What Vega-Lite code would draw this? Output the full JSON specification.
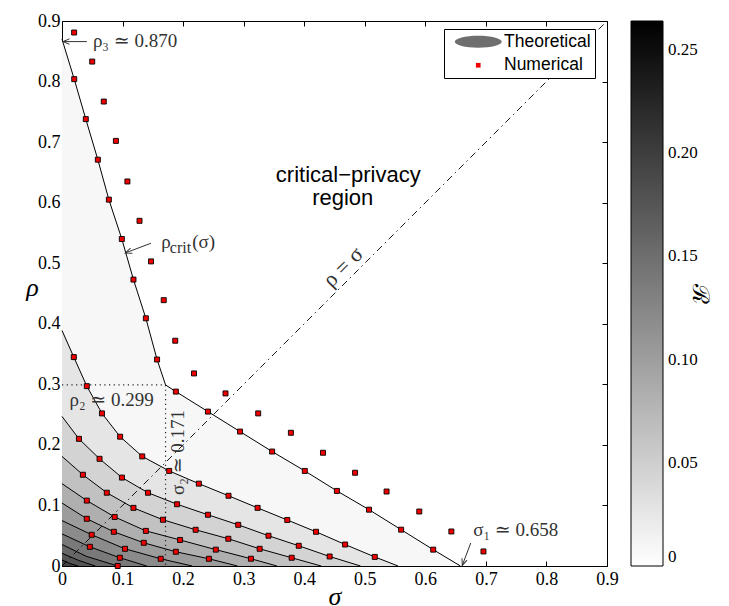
{
  "$schema": "https://vega.github.io/schema/vega-lite/v6.json",
  "width": 545,
  "height": 545,
  "autosize": {"type": "none"},
  "padding": {"left": 62, "top": 21, "right": 122, "bottom": 40},
  "background": "white",
  "config": {
    "view": {"stroke": null},
    "axis": {
      "domainColor": "black", "domainWidth": 1, "tickColor": "black", "tickWidth": 1, "tickSize": -5,
      "labelFont": "Liberation Serif", "labelFontSize": 18, "labelColor": "black",
      "grid": false, "zindex": 1, "labelFlush": false, "labelOverlap": false,
      "titleFont": "Liberation Serif", "titleFontStyle": "italic", "titleFontWeight": "normal",
      "titleFontSize": 26, "titleColor": "black"
    }
  },
  "datasets": {
    "contours": [
      {"c": 1, "R": 0.008, "sigma": 0, "rho": 0.870}, {"c": 1, "R": 0.008, "sigma": 0.0202, "rho": 0.804}, {"c": 1, "R": 0.008, "sigma": 0.0393, "rho": 0.738}, {"c": 1, "R": 0.008, "sigma": 0.0592, "rho": 0.671}, {"c": 1, "R": 0.008, "sigma": 0.0774, "rho": 0.605}, {"c": 1, "R": 0.008, "sigma": 0.0988, "rho": 0.540}, {"c": 1, "R": 0.008, "sigma": 0.118, "rho": 0.473}, {"c": 1, "R": 0.008, "sigma": 0.1385, "rho": 0.409}, {"c": 1, "R": 0.008, "sigma": 0.157, "rho": 0.341}, {"c": 1, "R": 0.008, "sigma": 0.171, "rho": 0.299}, {"c": 1, "R": 0.008, "sigma": 0.188, "rho": 0.288}, {"c": 1, "R": 0.008, "sigma": 0.241, "rho": 0.255}, {"c": 1, "R": 0.008, "sigma": 0.294, "rho": 0.222}, {"c": 1, "R": 0.008, "sigma": 0.347, "rho": 0.189}, {"c": 1, "R": 0.008, "sigma": 0.401, "rho": 0.157}, {"c": 1, "R": 0.008, "sigma": 0.454, "rho": 0.124}, {"c": 1, "R": 0.008, "sigma": 0.507, "rho": 0.093}, {"c": 1, "R": 0.008, "sigma": 0.560, "rho": 0.060}, {"c": 1, "R": 0.008, "sigma": 0.613, "rho": 0.027}, {"c": 1, "R": 0.008, "sigma": 0.658, "rho": 0},
      {"c": 2, "R": 0.027, "sigma": 0, "rho": 0.389}, {"c": 2, "R": 0.027, "sigma": 0.0195, "rho": 0.345}, {"c": 2, "R": 0.027, "sigma": 0.041, "rho": 0.297}, {"c": 2, "R": 0.027, "sigma": 0.066, "rho": 0.252}, {"c": 2, "R": 0.027, "sigma": 0.096, "rho": 0.2135}, {"c": 2, "R": 0.027, "sigma": 0.1325, "rho": 0.181}, {"c": 2, "R": 0.027, "sigma": 0.177, "rho": 0.157}, {"c": 2, "R": 0.027, "sigma": 0.226, "rho": 0.136}, {"c": 2, "R": 0.027, "sigma": 0.275, "rho": 0.116}, {"c": 2, "R": 0.027, "sigma": 0.323, "rho": 0.096}, {"c": 2, "R": 0.027, "sigma": 0.372, "rho": 0.076}, {"c": 2, "R": 0.027, "sigma": 0.4195, "rho": 0.0565}, {"c": 2, "R": 0.027, "sigma": 0.4675, "rho": 0.0355}, {"c": 2, "R": 0.027, "sigma": 0.5165, "rho": 0.015}, {"c": 2, "R": 0.027, "sigma": 0.555, "rho": 0},
      {"c": 3, "R": 0.046, "sigma": 0, "rho": 0.247}, {"c": 3, "R": 0.046, "sigma": 0.028, "rho": 0.210}, {"c": 3, "R": 0.046, "sigma": 0.062, "rho": 0.177}, {"c": 3, "R": 0.046, "sigma": 0.099, "rho": 0.146}, {"c": 3, "R": 0.046, "sigma": 0.142, "rho": 0.121}, {"c": 3, "R": 0.046, "sigma": 0.190, "rho": 0.102}, {"c": 3, "R": 0.046, "sigma": 0.241, "rho": 0.0846}, {"c": 3, "R": 0.046, "sigma": 0.291, "rho": 0.068}, {"c": 3, "R": 0.046, "sigma": 0.341, "rho": 0.050}, {"c": 3, "R": 0.046, "sigma": 0.391, "rho": 0.0334}, {"c": 3, "R": 0.046, "sigma": 0.442, "rho": 0.0157}, {"c": 3, "R": 0.046, "sigma": 0.493, "rho": 0},
      {"c": 4, "R": 0.064, "sigma": 0, "rho": 0.181}, {"c": 4, "R": 0.064, "sigma": 0.0345, "rho": 0.1507}, {"c": 4, "R": 0.064, "sigma": 0.074, "rho": 0.121}, {"c": 4, "R": 0.064, "sigma": 0.118, "rho": 0.096}, {"c": 4, "R": 0.064, "sigma": 0.1667, "rho": 0.0764}, {"c": 4, "R": 0.064, "sigma": 0.2207, "rho": 0.0598}, {"c": 4, "R": 0.064, "sigma": 0.2747, "rho": 0.045}, {"c": 4, "R": 0.064, "sigma": 0.3264, "rho": 0.0284}, {"c": 4, "R": 0.064, "sigma": 0.3793, "rho": 0.0136}, {"c": 4, "R": 0.064, "sigma": 0.428, "rho": 0},
      {"c": 5, "R": 0.083, "sigma": 0, "rho": 0.136}, {"c": 5, "R": 0.083, "sigma": 0.041, "rho": 0.108}, {"c": 5, "R": 0.083, "sigma": 0.087, "rho": 0.081}, {"c": 5, "R": 0.083, "sigma": 0.1385, "rho": 0.058}, {"c": 5, "R": 0.083, "sigma": 0.195, "rho": 0.043}, {"c": 5, "R": 0.083, "sigma": 0.254, "rho": 0.027}, {"c": 5, "R": 0.083, "sigma": 0.312, "rho": 0.012}, {"c": 5, "R": 0.083, "sigma": 0.355, "rho": 0},
      {"c": 6, "R": 0.102, "sigma": 0, "rho": 0.104}, {"c": 6, "R": 0.102, "sigma": 0.041, "rho": 0.078}, {"c": 6, "R": 0.102, "sigma": 0.0856, "rho": 0.0565}, {"c": 6, "R": 0.102, "sigma": 0.135, "rho": 0.0383}, {"c": 6, "R": 0.102, "sigma": 0.188, "rho": 0.0235}, {"c": 6, "R": 0.102, "sigma": 0.2426, "rho": 0.0119}, {"c": 6, "R": 0.102, "sigma": 0.29, "rho": 0},
      {"c": 7, "R": 0.120, "sigma": 0, "rho": 0.075}, {"c": 7, "R": 0.120, "sigma": 0.049, "rho": 0.0516}, {"c": 7, "R": 0.120, "sigma": 0.104, "rho": 0.0284}, {"c": 7, "R": 0.120, "sigma": 0.163, "rho": 0.0119}, {"c": 7, "R": 0.120, "sigma": 0.215, "rho": 0},
      {"c": 8, "R": 0.139, "sigma": 0, "rho": 0.053}, {"c": 8, "R": 0.139, "sigma": 0.046, "rho": 0.0317}, {"c": 8, "R": 0.139, "sigma": 0.0955, "rho": 0.0136}, {"c": 8, "R": 0.139, "sigma": 0.14, "rho": 0},
      {"c": 9, "R": 0.157, "sigma": 0, "rho": 0.0355}, {"c": 9, "R": 0.157, "sigma": 0.04, "rho": 0.016}, {"c": 9, "R": 0.157, "sigma": 0.092, "rho": 0},
      {"c": 10, "R": 0.176, "sigma": 0, "rho": 0.021}, {"c": 10, "R": 0.176, "sigma": 0.028, "rho": 0.009}, {"c": 10, "R": 0.176, "sigma": 0.055, "rho": 0},
      {"c": 11, "R": 0.195, "sigma": 0, "rho": 0.010}, {"c": 11, "R": 0.195, "sigma": 0.013, "rho": 0.004}, {"c": 11, "R": 0.195, "sigma": 0.027, "rho": 0}
    ],
    "points": [
      {"series": "Numerical", "sigma": 0.020, "rho": 0.881}, {"series": "Numerical", "sigma": 0.0499, "rho": 0.833}, {"series": "Numerical", "sigma": 0.069, "rho": 0.767}, {"series": "Numerical", "sigma": 0.089, "rho": 0.702}, {"series": "Numerical", "sigma": 0.108, "rho": 0.635}, {"series": "Numerical", "sigma": 0.128, "rho": 0.570}, {"series": "Numerical", "sigma": 0.147, "rho": 0.503}, {"series": "Numerical", "sigma": 0.168, "rho": 0.439}, {"series": "Numerical", "sigma": 0.187, "rho": 0.372}, {"series": "Numerical", "sigma": 0.218, "rho": 0.318}, {"series": "Numerical", "sigma": 0.270, "rho": 0.285}, {"series": "Numerical", "sigma": 0.324, "rho": 0.252}, {"series": "Numerical", "sigma": 0.378, "rho": 0.220}, {"series": "Numerical", "sigma": 0.431, "rho": 0.187}, {"series": "Numerical", "sigma": 0.484, "rho": 0.154}, {"series": "Numerical", "sigma": 0.536, "rho": 0.123}, {"series": "Numerical", "sigma": 0.590, "rho": 0.090}, {"series": "Numerical", "sigma": 0.643, "rho": 0.057}, {"series": "Numerical", "sigma": 0.696, "rho": 0.024},
      {"series": "Numerical", "sigma": 0.0202, "rho": 0.804}, {"series": "Numerical", "sigma": 0.0393, "rho": 0.738}, {"series": "Numerical", "sigma": 0.0592, "rho": 0.671}, {"series": "Numerical", "sigma": 0.0774, "rho": 0.605}, {"series": "Numerical", "sigma": 0.0988, "rho": 0.540}, {"series": "Numerical", "sigma": 0.118, "rho": 0.473}, {"series": "Numerical", "sigma": 0.1385, "rho": 0.409}, {"series": "Numerical", "sigma": 0.157, "rho": 0.341}, {"series": "Numerical", "sigma": 0.188, "rho": 0.288}, {"series": "Numerical", "sigma": 0.241, "rho": 0.255}, {"series": "Numerical", "sigma": 0.294, "rho": 0.222}, {"series": "Numerical", "sigma": 0.347, "rho": 0.189}, {"series": "Numerical", "sigma": 0.401, "rho": 0.157}, {"series": "Numerical", "sigma": 0.454, "rho": 0.124}, {"series": "Numerical", "sigma": 0.507, "rho": 0.093}, {"series": "Numerical", "sigma": 0.560, "rho": 0.060}, {"series": "Numerical", "sigma": 0.613, "rho": 0.027},
      {"series": "Numerical", "sigma": 0.0195, "rho": 0.345}, {"series": "Numerical", "sigma": 0.041, "rho": 0.297}, {"series": "Numerical", "sigma": 0.066, "rho": 0.252}, {"series": "Numerical", "sigma": 0.096, "rho": 0.2135}, {"series": "Numerical", "sigma": 0.1325, "rho": 0.181}, {"series": "Numerical", "sigma": 0.177, "rho": 0.157}, {"series": "Numerical", "sigma": 0.226, "rho": 0.136}, {"series": "Numerical", "sigma": 0.275, "rho": 0.116}, {"series": "Numerical", "sigma": 0.323, "rho": 0.096}, {"series": "Numerical", "sigma": 0.372, "rho": 0.076}, {"series": "Numerical", "sigma": 0.4195, "rho": 0.0565}, {"series": "Numerical", "sigma": 0.4675, "rho": 0.0355}, {"series": "Numerical", "sigma": 0.5165, "rho": 0.015},
      {"series": "Numerical", "sigma": 0.028, "rho": 0.210}, {"series": "Numerical", "sigma": 0.062, "rho": 0.177}, {"series": "Numerical", "sigma": 0.099, "rho": 0.146}, {"series": "Numerical", "sigma": 0.142, "rho": 0.121}, {"series": "Numerical", "sigma": 0.190, "rho": 0.102}, {"series": "Numerical", "sigma": 0.241, "rho": 0.0846}, {"series": "Numerical", "sigma": 0.291, "rho": 0.068}, {"series": "Numerical", "sigma": 0.341, "rho": 0.050}, {"series": "Numerical", "sigma": 0.391, "rho": 0.0334}, {"series": "Numerical", "sigma": 0.442, "rho": 0.0157},
      {"series": "Numerical", "sigma": 0.0345, "rho": 0.1507}, {"series": "Numerical", "sigma": 0.074, "rho": 0.121}, {"series": "Numerical", "sigma": 0.118, "rho": 0.096}, {"series": "Numerical", "sigma": 0.1667, "rho": 0.0764}, {"series": "Numerical", "sigma": 0.2207, "rho": 0.0598}, {"series": "Numerical", "sigma": 0.2747, "rho": 0.045}, {"series": "Numerical", "sigma": 0.3264, "rho": 0.0284}, {"series": "Numerical", "sigma": 0.3793, "rho": 0.0136},
      {"series": "Numerical", "sigma": 0.041, "rho": 0.108}, {"series": "Numerical", "sigma": 0.087, "rho": 0.081}, {"series": "Numerical", "sigma": 0.1385, "rho": 0.058}, {"series": "Numerical", "sigma": 0.195, "rho": 0.043}, {"series": "Numerical", "sigma": 0.254, "rho": 0.027}, {"series": "Numerical", "sigma": 0.312, "rho": 0.012},
      {"series": "Numerical", "sigma": 0.041, "rho": 0.078}, {"series": "Numerical", "sigma": 0.0856, "rho": 0.0565}, {"series": "Numerical", "sigma": 0.135, "rho": 0.0383}, {"series": "Numerical", "sigma": 0.188, "rho": 0.0235}, {"series": "Numerical", "sigma": 0.2426, "rho": 0.0119},
      {"series": "Numerical", "sigma": 0.049, "rho": 0.0516}, {"series": "Numerical", "sigma": 0.104, "rho": 0.0284}, {"series": "Numerical", "sigma": 0.163, "rho": 0.0119},
      {"series": "Numerical", "sigma": 0.046, "rho": 0.0317}, {"series": "Numerical", "sigma": 0.0955, "rho": 0.0136},
      {"series": "Numerical", "sigma": 0.092, "rho": 0.0}
    ],
    "guides": [
      {"sigma": 0, "rho": 0.299, "sigma2": 0.171, "rho2": 0.299},
      {"sigma": 0.171, "rho": 0.299, "sigma2": 0.171, "rho2": 0}
    ],
    "arrows": [
      {"name": "rho3", "sigma": 0.041, "rho": 0.866, "sigma2": 0.0015, "rho2": 0.866},
      {"name": "crit", "sigma": 0.147, "rho": 0.533, "sigma2": 0.1045, "rho2": 0.517},
      {"name": "sigma1", "sigma": 0.675, "rho": 0.038, "sigma2": 0.661, "rho2": 0.001}
    ],
    "labels": [
      {"kind": "main", "label": "ρ₃ ≃ 0.870", "sigma": 0.051, "rho": 0.8675},
      {"kind": "main", "label": "ρ₂ ≃ 0.299", "sigma": 0.0124, "rho": 0.2747},
      {"kind": "main", "label": "σ₁ ≃ 0.658", "sigma": 0.679, "rho": 0.0587},
      {"kind": "main", "label": "ρ", "sigma": 0.164, "rho": 0.5347},
      {"kind": "main", "label": "(σ)", "sigma": 0.215, "rho": 0.5347},
      {"kind": "sub", "label": "crit", "sigma": 0.178, "rho": 0.525},
      {"kind": "vert", "label": "σ₂ ≃ 0.171", "sigma": 0.1914, "rho": 0.1876},
      {"kind": "diag", "label": "ρ = σ", "sigma": 0.464, "rho": 0.494},
      {"kind": "sans", "label": "critical−privacy", "sigma": 0.4727, "rho": 0.6455},
      {"kind": "sans", "label": "region", "sigma": 0.4636, "rho": 0.607}
    ]
  },
  "layer": [
    {
      "layer": [
        {
          "data": {"name": "contours"},
          "mark": {"type": "area", "interpolate": "linear"},
          "encoding": {
            "x": {"field": "sigma", "type": "quantitative", "scale": {"domain": [0, 0.9], "nice": false},
              "axis": {"orient": "bottom", "values": [0, 0.1, 0.2, 0.3, 0.4, 0.5, 0.6, 0.7, 0.8, 0.9], "format": ".1~f", "labelPadding": 9, "title": "σ", "titleY": 38, "titleBaseline": "alphabetic"}},
            "y": {"field": "rho", "type": "quantitative", "stack": null, "scale": {"domain": [0, 0.9], "nice": false},
              "axis": {"orient": "left", "values": [0, 0.1, 0.2, 0.3, 0.4, 0.5, 0.6, 0.7, 0.8, 0.9], "format": ".1~f", "labelPadding": 7, "title": "ρ", "titleAngle": 0, "titleX": -30, "titleY": 266, "titleAlign": "center", "titleBaseline": "middle"}},
            "color": {"field": "R", "type": "quantitative",
              "scale": {"domain": [0, 0.264], "range": ["#ffffff", "#000000"], "interpolate": "rgb"},
              "legend": {"orient": "none", "legendX": 569, "legendY": 0, "direction": "vertical", "gradientLength": 545, "gradientThickness": 32, "gradientStrokeColor": "black", "gradientStrokeWidth": 1, "values": [0, 0.05, 0.1, 0.15, 0.2, 0.25], "labelExpr": "datum.value == 0 ? '0' : format(datum.value, '.2f')", "labelFont": "Liberation Serif", "labelFontSize": 17, "labelColor": "black", "labelOffset": 5, "labelOverlap": false, "title": "ℛ", "titleOrient": "right", "titleAngle": 270, "titleFont": "DejaVu Serif", "titleFontSize": 23, "titleFontWeight": "normal", "titleColor": "black", "titleAnchor": "middle", "titleBaseline": "middle", "titlePadding": 2, "padding": 0}}
          }
        },
        {
          "data": {"name": "contours"},
          "mark": {"type": "line", "color": "black", "strokeWidth": 1},
          "encoding": {
            "x": {"field": "sigma", "type": "quantitative"},
            "y": {"field": "rho", "type": "quantitative"},
            "detail": {"field": "c", "type": "nominal"}
          }
        },
        {
          "data": {"name": "guides"},
          "mark": {"type": "rule", "strokeDash": [1.2, 3.5], "color": "#222222", "strokeWidth": 1.2},
          "encoding": {
            "x": {"field": "sigma", "type": "quantitative"},
            "y": {"field": "rho", "type": "quantitative"},
            "x2": {"field": "sigma2"},
            "y2": {"field": "rho2"}
          }
        },
        {
          "data": {"values": [{"sigma": 0, "rho": 0, "sigma2": 0.9, "rho2": 0.9}]},
          "mark": {"type": "rule", "strokeDash": [7, 4, 1.5, 4], "color": "black", "strokeWidth": 0.9},
          "encoding": {
            "x": {"field": "sigma", "type": "quantitative"},
            "y": {"field": "rho", "type": "quantitative"},
            "x2": {"field": "sigma2"},
            "y2": {"field": "rho2"}
          }
        },
        {
          "data": {"name": "points"},
          "mark": {"type": "point", "filled": true, "size": 25, "stroke": "black", "strokeWidth": 0.9, "opacity": 1},
          "encoding": {
            "x": {"field": "sigma", "type": "quantitative"},
            "y": {"field": "rho", "type": "quantitative"},
            "shape": {"field": "series", "type": "nominal",
              "scale": {"domain": ["Theoretical", "Numerical"], "range": ["M -10 0 A 10 2.55 0 1 1 10 0 A 10 2.55 0 1 1 -10 0 Z M -6.3 0 A 6.3 1.6 0 1 1 6.3 0 A 6.3 1.6 0 1 1 -6.3 0 Z M -3.1 0 A 3.1 0.85 0 1 1 3.1 0 A 3.1 0.85 0 1 1 -3.1 0 Z", "square"]},
              "legend": {"orient": "none", "legendX": 382, "legendY": 8, "title": null, "padding": 4, "strokeColor": "black", "fillColor": "white", "labelFont": "Liberation Sans", "labelFontSize": 17.5, "labelColor": "black", "symbolSize": 22, "symbolStrokeColor": "black", "symbolStrokeWidth": 0.8, "rowPadding": 4.5, "symbolOffset": 21.5, "labelOffset": 17}},
            "fill": {"field": "series", "type": "nominal",
              "scale": {"domain": ["Theoretical", "Numerical"], "range": ["#6e6e6e", "#ee0000"]},
              "legend": {"orient": "none", "legendX": 382, "legendY": 8, "title": null, "padding": 4, "strokeColor": "black", "fillColor": "white", "labelFont": "Liberation Sans", "labelFontSize": 17.5, "labelColor": "black", "symbolSize": 22, "symbolStrokeColor": "black", "symbolStrokeWidth": 0.8, "rowPadding": 4.5, "symbolOffset": 21.5, "labelOffset": 17}}
          }
        },
        {
          "data": {"name": "arrows"},
          "mark": {"type": "rule", "color": "#333333", "strokeWidth": 1},
          "encoding": {
            "x": {"field": "sigma", "type": "quantitative"},
            "y": {"field": "rho", "type": "quantitative"},
            "x2": {"field": "sigma2"},
            "y2": {"field": "rho2"}
          }
        },
        {
          "data": {"name": "arrows"},
          "transform": [{"filter": "datum.name == 'rho3'"}],
          "mark": {"type": "point", "shape": "M -0.9 2.2 L 0 0 L 0.9 2.2", "filled": false, "size": 36, "angle": 270, "color": "#333333", "strokeWidth": 1, "opacity": 1},
          "encoding": {"x": {"field": "sigma2", "type": "quantitative"}, "y": {"field": "rho2", "type": "quantitative"}}
        },
        {
          "data": {"name": "arrows"},
          "transform": [{"filter": "datum.name == 'crit'"}],
          "mark": {"type": "point", "shape": "M -0.9 2.2 L 0 0 L 0.9 2.2", "filled": false, "size": 36, "angle": 250, "color": "#333333", "strokeWidth": 1, "opacity": 1},
          "encoding": {"x": {"field": "sigma2", "type": "quantitative"}, "y": {"field": "rho2", "type": "quantitative"}}
        },
        {
          "data": {"name": "arrows"},
          "transform": [{"filter": "datum.name == 'sigma1'"}],
          "mark": {"type": "point", "shape": "M -0.9 2.2 L 0 0 L 0.9 2.2", "filled": false, "size": 36, "angle": 200, "color": "#333333", "strokeWidth": 1, "opacity": 1},
          "encoding": {"x": {"field": "sigma2", "type": "quantitative"}, "y": {"field": "rho2", "type": "quantitative"}}
        },
        {
          "data": {"name": "labels"},
          "transform": [{"filter": "datum.kind == 'main'"}],
          "mark": {"type": "text", "align": "left", "baseline": "middle", "font": "Liberation Serif, DejaVu Serif", "fontSize": 19, "color": "#333333"},
          "encoding": {"x": {"field": "sigma", "type": "quantitative"}, "y": {"field": "rho", "type": "quantitative"}, "text": {"field": "label"}}
        },
        {
          "data": {"name": "labels"},
          "transform": [{"filter": "datum.kind == 'sub'"}],
          "mark": {"type": "text", "align": "left", "baseline": "middle", "font": "Liberation Serif, DejaVu Serif", "fontSize": 16, "color": "#333333"},
          "encoding": {"x": {"field": "sigma", "type": "quantitative"}, "y": {"field": "rho", "type": "quantitative"}, "text": {"field": "label"}}
        },
        {
          "data": {"name": "labels"},
          "transform": [{"filter": "datum.kind == 'vert'"}],
          "mark": {"type": "text", "align": "center", "baseline": "middle", "angle": 270, "font": "Liberation Serif, DejaVu Serif", "fontSize": 19, "color": "#333333"},
          "encoding": {"x": {"field": "sigma", "type": "quantitative"}, "y": {"field": "rho", "type": "quantitative"}, "text": {"field": "label"}}
        },
        {
          "data": {"name": "labels"},
          "transform": [{"filter": "datum.kind == 'diag'"}],
          "mark": {"type": "text", "align": "center", "baseline": "middle", "angle": 315, "font": "Liberation Serif, DejaVu Serif", "fontSize": 22, "color": "#333333"},
          "encoding": {"x": {"field": "sigma", "type": "quantitative"}, "y": {"field": "rho", "type": "quantitative"}, "text": {"field": "label"}}
        },
        {
          "data": {"name": "labels"},
          "transform": [{"filter": "datum.kind == 'sans'"}],
          "mark": {"type": "text", "align": "center", "baseline": "middle", "font": "Liberation Sans", "fontSize": 22, "color": "black"},
          "encoding": {"x": {"field": "sigma", "type": "quantitative"}, "y": {"field": "rho", "type": "quantitative"}, "text": {"field": "label"}}
        }
      ]
    },
    {
      "data": {"values": [{"sigma": 0, "rho": 0}]},
      "mark": {"type": "point", "opacity": 0},
      "encoding": {
        "x": {"field": "sigma", "type": "quantitative", "axis": {"orient": "top", "values": [0, 0.1, 0.2, 0.3, 0.4, 0.5, 0.6, 0.7, 0.8, 0.9], "labels": false, "title": null}},
        "y": {"field": "rho", "type": "quantitative", "axis": {"orient": "right", "values": [0, 0.1, 0.2, 0.3, 0.4, 0.5, 0.6, 0.7, 0.8, 0.9], "labels": false, "title": null}}
      }
    }
  ],
  "resolve": {"axis": {"x": "independent", "y": "independent"}}
}
